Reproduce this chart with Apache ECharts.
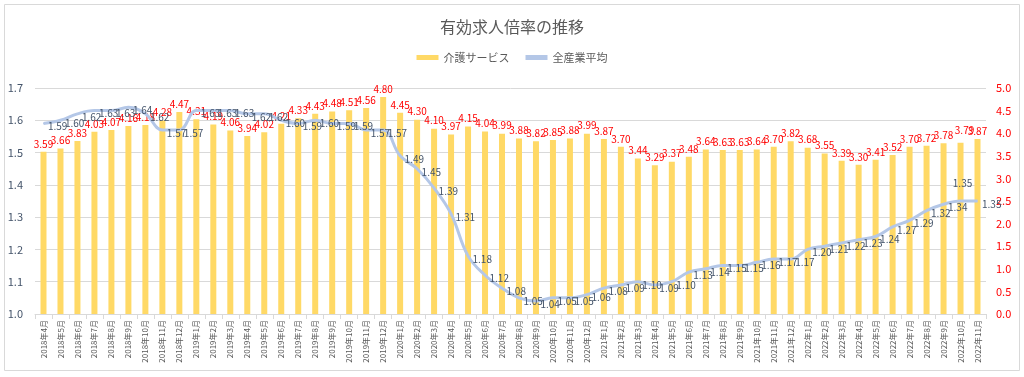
<!DOCTYPE html>
<html>
<head>
<meta charset="utf-8">
<script src="https://cdn.jsdelivr.net/npm/echarts@6/dist/echarts.min.js"></script>
<style>
    html, body { margin: 0; padding: 0; background: #fff; }
    #chart { width: 1024px; height: 377px; }
</style>
</head>
<body>
<div id="chart"></div>
<script>
// months 2018/4 - 2022/11
var months = [];
var startYear = 2018, startMonth = 4, monthCount = 56;
for (var i = 0; i < monthCount; i++) {
    var m = startMonth - 1 + i;
    months.push((startYear + Math.floor(m / 12)) + '年' + (m % 12 + 1) + '月');
}

// 介護サービス (right axis)
var kaigo = [
    3.59, 3.66, 3.83, 4.03, 4.07, 4.16, 4.18, 4.28, 4.47,
    4.31, 4.19, 4.06, 3.94, 4.02, 4.21, 4.33, 4.43, 4.48, 4.51, 4.56, 4.80,
    4.45, 4.30, 4.10, 3.97, 4.15, 4.04, 3.99, 3.88, 3.82, 3.85, 3.88, 3.99,
    3.87, 3.70, 3.44, 3.29, 3.37, 3.48, 3.64, 3.63, 3.63, 3.64, 3.70, 3.82,
    3.68, 3.55, 3.39, 3.30, 3.41, 3.52, 3.70, 3.72, 3.78, 3.79, 3.87
];

// 全産業平均 (left axis)
var zensangyo = [
    1.59, 1.60, 1.62, 1.63, 1.63, 1.64, 1.62, 1.57, 1.57,
    1.63, 1.63, 1.63, 1.62, 1.62, 1.60, 1.59, 1.60, 1.59, 1.59, 1.57, 1.57,
    1.49, 1.45, 1.39, 1.31, 1.18, 1.12, 1.08, 1.05, 1.04, 1.05, 1.05, 1.06,
    1.08, 1.09, 1.10, 1.09, 1.10, 1.13, 1.14, 1.15, 1.15, 1.16, 1.17, 1.17,
    1.20, 1.21, 1.22, 1.23, 1.24, 1.27, 1.29, 1.32, 1.34, 1.35, 1.35
];

var leftTicks = { min: 1.0, max: 1.7, step: 0.1 };
var rightTicks = { min: 0, max: 5, step: 0.5 };

// labels that were dragged by hand in the original sheet
var movedLabel = 54;

var font = '"Noto Sans CJK JP", "Noto Sans", sans-serif';
var chart = echarts.init(document.getElementById('chart'));

var kaigoData = kaigo.map(function (v, i) {
    if (i !== movedLabel) return v;
    return { value: v, label: { offset: [4, -4] } };
});
var zenData = zensangyo.map(function (v, i) {
    if (i !== movedLabel) return v;
    return { value: v, label: { position: 'top', offset: [2, -8] } };
});

chart.setOption({
    animation: false,
    textStyle: { fontFamily: font },
    graphic: [{
        type: 'rect',
        shape: { x: 4.5, y: 4.5, width: 1015, height: 366 },
        style: { fill: 'none', stroke: '#D9D9D9', lineWidth: 1 },
        silent: true
    }],
    title: {
        text: '有効求人倍率の推移',
        left: 'center',
        top: 14,
        textStyle: { color: '#595959', fontSize: 16, fontWeight: 'normal', fontFamily: font }
    },
    legend: {
        top: 47,
        left: 'center',
        itemWidth: 22,
        itemHeight: 5,
        itemGap: 16,
        textStyle: { color: '#595959', fontSize: 11, fontFamily: font },
        data: [
            { name: '介護サービス', icon: 'rect' },
            { name: '全産業平均', icon: 'rect' }
        ]
    },
    grid: { left: 35, right: 38, top: 88, bottom: 63 },
    xAxis: {
        type: 'category',
        data: months,
        axisLine: { lineStyle: { color: '#D9D9D9' } },
        axisTick: { show: true, lineStyle: { color: '#D9D9D9' } },
        axisLabel: {
            interval: 0,
            rotate: 90,
            fontSize: 8,
            color: '#595959',
            margin: 6
        }
    },
    yAxis: [{
        type: 'value',
        min: leftTicks.min,
        max: leftTicks.max,
        interval: leftTicks.step,
        axisLine: { show: false },
        axisTick: { show: false },
        axisLabel: {
            color: '#44546A',
            fontSize: 11,
            margin: 12,
            formatter: function (v) { return v.toFixed(1); }
        },
        splitLine: { lineStyle: { color: '#D9D9D9' } }
    }, {
        type: 'value',
        min: rightTicks.min,
        max: rightTicks.max,
        interval: rightTicks.step,
        axisLine: { show: false },
        axisTick: { show: false },
        splitLine: { show: false },
        axisLabel: {
            color: '#FF0000',
            fontSize: 11,
            margin: 10,
            formatter: function (v) { return v.toFixed(1); }
        }
    }],
    series: [{
        name: '介護サービス',
        type: 'bar',
        yAxisIndex: 1,
        barWidth: 6,
        data: kaigoData,
        itemStyle: { color: '#FFD966' },
        label: {
            show: true,
            position: 'top',
            distance: 3,
            color: '#FF0000',
            fontSize: 10,
            formatter: function (p) { return p.value.toFixed(2); }
        }
    }, {
        name: '全産業平均',
        type: 'line',
        yAxisIndex: 0,
        smooth: 0.4,
        data: zenData,
        symbol: 'circle',
        symbolSize: 1,
        lineStyle: { color: '#B4C7E7', width: 3 },
        itemStyle: { color: '#B4C7E7' },
        label: {
            show: true,
            position: 'right',
            distance: 4,
            offset: [0, 3],
            color: '#44546A',
            fontSize: 10,
            formatter: function (p) { return p.value.toFixed(2); }
        },
        z: 3
    }]
});
</script>
</body>
</html>
